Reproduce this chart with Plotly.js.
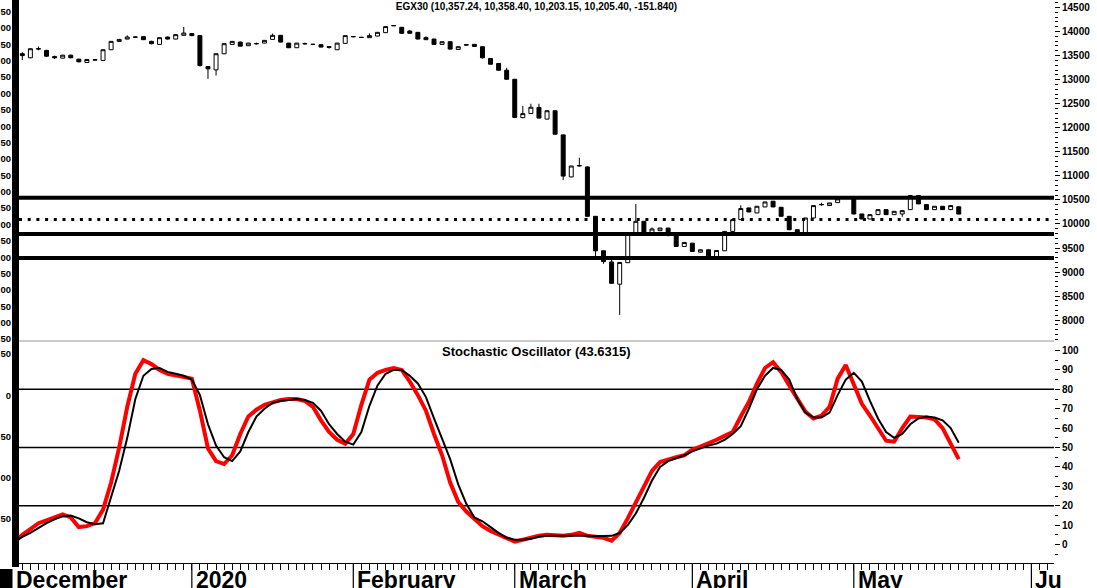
<!DOCTYPE html>
<html><head><meta charset="utf-8">
<script src="https://cdn.plot.ly/plotly-3.0.1.min.js"></script>
<style>html,body{margin:0;padding:0;background:#fff;overflow:hidden}#chart{width:1097px;height:588px}</style>
</head><body><div id="chart"></div>
<script>
// ---------- DATA ----------
const chartTitle = "EGX30 (10,357.24, 10,358.40, 10,203.15, 10,205.40, -151.840)";
const stochTitle = "Stochastic Oscillator (43.6315)";

const openP = [13540,13455,13635,13608,13482,13447,13509,13426,13357,13405,
13399,13622,13796,13844,13886,13894,13796,13733,13886,13844,
13921,13957,13915,13273,13204,13539,13733,13781,13706,13745,
13760,13837,13921,13760,13664,13752,13735,13727,13670,13622,
13754,13890,13880,13873,13906,13977,14120,14088,14011,13984,
13873,13844,13733,13789,13628,13727,13733,13685,13440,13336,
13196,13008,12210,12295,12423,12180,12354,11852,10978,11205,
11186,10159,9442,9210,8748,9195,9810,10055,9810,9860,
9915,9776,9532,9601,9413,9463,9323,9442,9845,10090,
10333,10229,10354,10473,10347,10159,9881,9810,10124,10398,
10382,10444,10560,10542,10208,10103,10194,10298,10194,10208,
10298,10591,10403,10298,10368,10298,10357.24];
const highP = [13570,13650,13690,13620,13500,13515,13520,13435,13425,13430,
13630,13800,13845,13921,13900,13900,13810,13880,13895,13940,
14095,13965,13920,13280,13545,13755,13800,13790,13765,13770,
13822,13957,13930,13765,13765,13770,13742,13735,13700,13765,
13920,13905,13886,13963,13990,14108,14135,14095,14030,13990,
13900,13850,13795,13795,13690,13740,13745,13690,13445,13345,
13246,13015,12455,12500,12500,12360,12360,11860,11210,11378,
11195,10165,9450,9290,9205,9800,10416,10060,9929,9920,
9920,9780,9620,9605,9470,9468,9455,9850,10095,10389,
10340,10372,10462,10478,10352,10163,9885,10128,10386,10440,
10441,10525,10565,10548,10212,10198,10302,10302,10267,10281,
10595,10595,10407,10372,10372,10386,10358.40];
const lowP = [13410,13445,13610,13470,13430,13440,13445,13360,13350,13395,
13390,13615,13790,13840,13875,13825,13735,13725,13835,13838,
13915,13905,13273,13016,13085,13530,13728,13690,13700,13730,
13755,13830,13775,13655,13660,13730,13725,13670,13645,13615,
13748,13880,13872,13868,13900,13970,14115,13955,13955,13838,
13825,13725,13728,13628,13620,13712,13685,13440,13315,13190,
13000,12200,12200,12290,12195,12175,11860,10911,10970,11190,
10150,9330,9170,8760,8110,9190,9805,9790,9800,9855,
9741,9525,9528,9420,9408,9318,9318,9438,9840,10085,
10245,10225,10350,10350,10155,9870,9800,9806,10120,10380,
10378,10440,10555,10200,10095,10098,10190,10190,10190,10150,
10294,10413,10294,10294,10294,10294,10203.15];
const closeP = [13500,13643,13645,13488,13455,13509,13455,13371,13419,13415,
13622,13796,13837,13886,13884,13831,13748,13873,13844,13936,
13969,13915,13294,13225,13539,13748,13796,13697,13760,13750,
13817,13921,13781,13664,13760,13745,13733,13677,13685,13760,
13915,13897,13878,13915,13984,14103,14124,13963,13963,13844,
13831,13733,13789,13635,13685,13720,13691,13455,13321,13196,
13008,12215,12294,12427,12201,12354,11866,10995,11205,11215,
10159,9442,9218,8765,9200,9790,10055,9795,9895,9915,
9770,9532,9616,9428,9463,9323,9449,9845,10090,10320,
10250,10368,10458,10354,10159,9881,9810,10124,10382,10405,
10437,10521,10562,10208,10103,10194,10298,10194,10263,10277,
10591,10417,10298,10368,10298,10382,10205.40];

// stochastic values start one trading day before the first visible candle
const stochFast = [1,
5,8,11,12.5,14,15.5,14,9,9.5,11,
18,32,50,71,88,95,93,90,88,87,
86.5,85.5,69,49.5,43,41.5,46,57,66,69.5,
72,73.5,74.5,75,75,74,71,64,58,54,
52,57,72,85,88.5,90,91,90,84,77,
69,57,46,32,22,17,13,9.5,7,5,
3,1.5,2.5,3.8,4.6,5,4.8,4.5,5,6,
4.5,4,3.5,2,6,13.5,21.5,30,38,42.5,
44,45,46,49,50.5,52,54,56,58,66,
73.5,83,91,94,89,82,75.5,68.5,65,66.5,
71,85.5,92.5,82,72.5,66.5,60,53.5,53,60,
66,66,65.5,64.5,60,52,44];
const stochSlow = [1.5,
4,6,8.5,11,13,14.5,15,13.5,11.5,10.5,
11,25,38,55,75,87,90.5,91,89,88,
87,85,77,62,51,45,43,48,58,66,
70,73,74,74.5,75,74.5,73,69,62,57,
53,51.5,58,71.5,82,88,90,90,87,83,
76,65,55,44,31,21,14,12,9,6,
3.5,2.5,2.5,3,4,4.5,4.5,4.6,4.6,4.6,
4.6,4.3,4.3,4.5,6,10,16,24,33,40,
43,44.5,46,48,49.5,51,52,54,57,61,
70,80,87,91,90,85,75,68,65.5,65.5,
68,77,85,88.5,84,74,65,58,55,57,
62,65,66,65.5,64,60,52.5];

const priceLevels = [10545, 9790, 9290];   // solid lines
const dottedLevel = [10095];               // dotted line
const stochLevels = [80, 50, 20];

const monthNames = ["December","2020","February","March","April","May","Ju"];
const monthStartIdx = [-1, 21, 41, 61, 83, 103, 125];

const leftUpperVals = [1050,1000,950,900,850,800,750,700,650,600,550,500,450,400,350,300,250,200,150,100,50];
const leftUpperText = ["50","00","50","00","50","00","50","00","50","00","50","00","50","00","50","00","50","00","50","00","50"];
const leftLowerVals = [50, 0, -50, -100, -150];
const leftLowerText = ["50","0","50","00","50"];

// ---------- LAYOUT GEOMETRY ----------
const W = 1097, H = 588, ML = 19, MR = 43, MT = 0, MB = 25;
const PW = W - ML - MR, PH = H - MT - MB;
const split = 1 - 341 / PH;
const xRange = [-0.41, 127.8];

const dayIdx = openP.map((_, i) => i);
const stochIdx = stochFast.map((_, i) => i - 1);

const traces = [
  {
    type: 'candlestick', x: dayIdx, open: openP, high: highP, low: lowP, close: closeP,
    xaxis: 'x', yaxis: 'y', whiskerwidth: 0,
    increasing: {line: {color: '#000', width: 1}, fillcolor: '#ffffff'},
    decreasing: {line: {color: '#000', width: 1}, fillcolor: '#000000'},
    hoverinfo: 'none', showlegend: false
  },
  {
    type: 'scatter', mode: 'lines', x: stochIdx, y: stochFast, xaxis: 'x', yaxis: 'y2',
    line: {color: '#ff0000', width: 4}, hoverinfo: 'none', showlegend: false
  },
  {
    type: 'scatter', mode: 'lines', x: stochIdx, y: stochSlow, xaxis: 'x', yaxis: 'y2',
    line: {color: '#000000', width: 2}, hoverinfo: 'none', showlegend: false
  },
  // invisible helper traces so the left-hand label axes get drawn
  {
    type: 'scatter', mode: 'markers', x: leftUpperVals.map(() => 0), y: leftUpperVals, xaxis: 'x', yaxis: 'y3',
    marker: {opacity: 0, size: 1}, hoverinfo: 'none', showlegend: false
  },
  {
    type: 'scatter', mode: 'markers', x: leftLowerVals.map(() => 0), y: leftLowerVals, xaxis: 'x', yaxis: 'y4',
    marker: {opacity: 0, size: 1}, hoverinfo: 'none', showlegend: false
  }
];

const boldFont = (s) => ({family: 'Arial, "Liberation Sans", sans-serif', size: s, color: '#000', weight: 'bold'});

const shapes = [];
priceLevels.forEach(v => shapes.push({type: 'line', xref: 'paper', x0: 0, x1: 1, yref: 'y', y0: v, y1: v,
  line: {color: '#000', width: 4}, layer: 'above'}));
dottedLevel.forEach(v => shapes.push({type: 'line', xref: 'paper', x0: 0, x1: 1, yref: 'y', y0: v, y1: v,
  line: {color: '#000', width: 3, dash: '3px,5.7px'}, layer: 'above'}));
stochLevels.forEach(v => shapes.push({type: 'line', xref: 'paper', x0: 0, x1: 1, yref: 'y2', y0: v, y1: v,
  line: {color: '#000', width: 1.5}, layer: 'below'}));
// panel separator
shapes.push({type: 'line', xref: 'paper', x0: 0, x1: 1, yref: 'paper', y0: split, y1: split,
  line: {color: '#999', width: 1}, layer: 'above'});
// thick left frame bar
shapes.push({type: 'rect', xref: 'paper', x0: -7 / PW, x1: 0, yref: 'paper', y0: -4 / PH, y1: 1,
  line: {width: 0}, fillcolor: '#000', layer: 'above'});
// black block bottom-left
shapes.push({type: 'rect', xref: 'paper', x0: -19 / PW, x1: -6.5 / PW, yref: 'paper', y0: -25 / PH, y1: -6 / PH,
  line: {width: 0}, fillcolor: '#000', layer: 'above'});
// month separators in the date strip
monthStartIdx.forEach(m => {
  if (m >= xRange[0]) shapes.push({type: 'line', xref: 'x', x0: m, x1: m, yref: 'paper', y0: 0, y1: -25 / PH,
    line: {color: '#000', width: 1.2}, layer: 'above'});
});

const annotations = [
  {text: stochTitle, xref: 'paper', x: 0.5, yref: 'paper', y: (PH - 352) / PH, yanchor: 'middle', xanchor: 'center',
   showarrow: false, font: boldFont(13)}
];
monthNames.forEach((name, k) => {
  const m = monthStartIdx[k];
  const inRange = m >= xRange[0];
  annotations.push({
    text: name, showarrow: false, xanchor: 'left', yanchor: 'top',
    xref: inRange ? 'x' : 'paper', x: inRange ? m : (-4 / PW), xshift: inRange ? 3 : 0,
    yref: 'paper', y: -3 / PH, font: boldFont(23), borderpad: 0
  });
});

const layout = {
  width: W, height: H,
  margin: {l: ML, r: MR, t: MT, b: MB, pad: 0},
  paper_bgcolor: '#fff', plot_bgcolor: '#fff',
  showlegend: false,
  title: {text: chartTitle, xref: 'paper', x: 0.5, xanchor: 'center', yref: 'container', y: 1 - 6 / H, yanchor: 'middle',
          font: boldFont(10)},
  xaxis: {
    domain: [0, 1], range: xRange, anchor: 'y2', type: 'linear',
    showgrid: false, zeroline: false, showline: true, linecolor: '#000', linewidth: 1,
    ticks: 'outside', tickmode: 'linear', tick0: 0, dtick: 1, ticklen: 6, tickwidth: 1, tickcolor: '#000',
    showticklabels: false, rangeslider: {visible: false}, fixedrange: true
  },
  yaxis: {
    domain: [split, 1], range: [7567, 14656], side: 'right', anchor: 'x',
    showgrid: false, zeroline: false, showline: false,
    tickmode: 'linear', tick0: 0, dtick: 500, tickformat: 'd',
    ticks: 'outside', ticklen: 5, tickwidth: 1, tickcolor: '#000',
    minor: {tickmode: 'linear', tick0: 0, dtick: 100, ticks: 'outside', ticklen: 3, tickcolor: '#000', showgrid: false},
    tickfont: boldFont(10), fixedrange: true
  },
  yaxis2: {
    domain: [0, split], range: [-9.5, 104.9], side: 'right', anchor: 'x',
    showgrid: false, zeroline: false, showline: false,
    tickmode: 'linear', tick0: 0, dtick: 10,
    ticks: 'outside', ticklen: 5, tickwidth: 1, tickcolor: '#000',
    minor: {tickmode: 'linear', tick0: 0, dtick: 5, ticks: 'outside', ticklen: 3, tickcolor: '#000', showgrid: false},
    tickfont: boldFont(10), fixedrange: true
  },
  yaxis3: {
    overlaying: 'y', side: 'left', anchor: 'x', range: [44.2, 1085.7], autorange: false,
    showgrid: false, zeroline: false, showline: false, ticks: '',
    tickmode: 'array', tickvals: leftUpperVals, ticktext: leftUpperText,
    ticklabelstandoff: 7, tickfont: boldFont(9.5), fixedrange: true
  },
  yaxis4: {
    overlaying: 'y2', side: 'left', anchor: 'x', range: [-203.6, 65.8], autorange: false,
    showgrid: false, zeroline: false, showline: false, ticks: '',
    tickmode: 'array', tickvals: leftLowerVals, ticktext: leftLowerText,
    ticklabelstandoff: 7, tickfont: boldFont(9.5), fixedrange: true
  },
  shapes: shapes,
  annotations: annotations
};

Plotly.newPlot('chart', traces, layout, {staticPlot: true, displayModeBar: false});
</script>
</body></html>
